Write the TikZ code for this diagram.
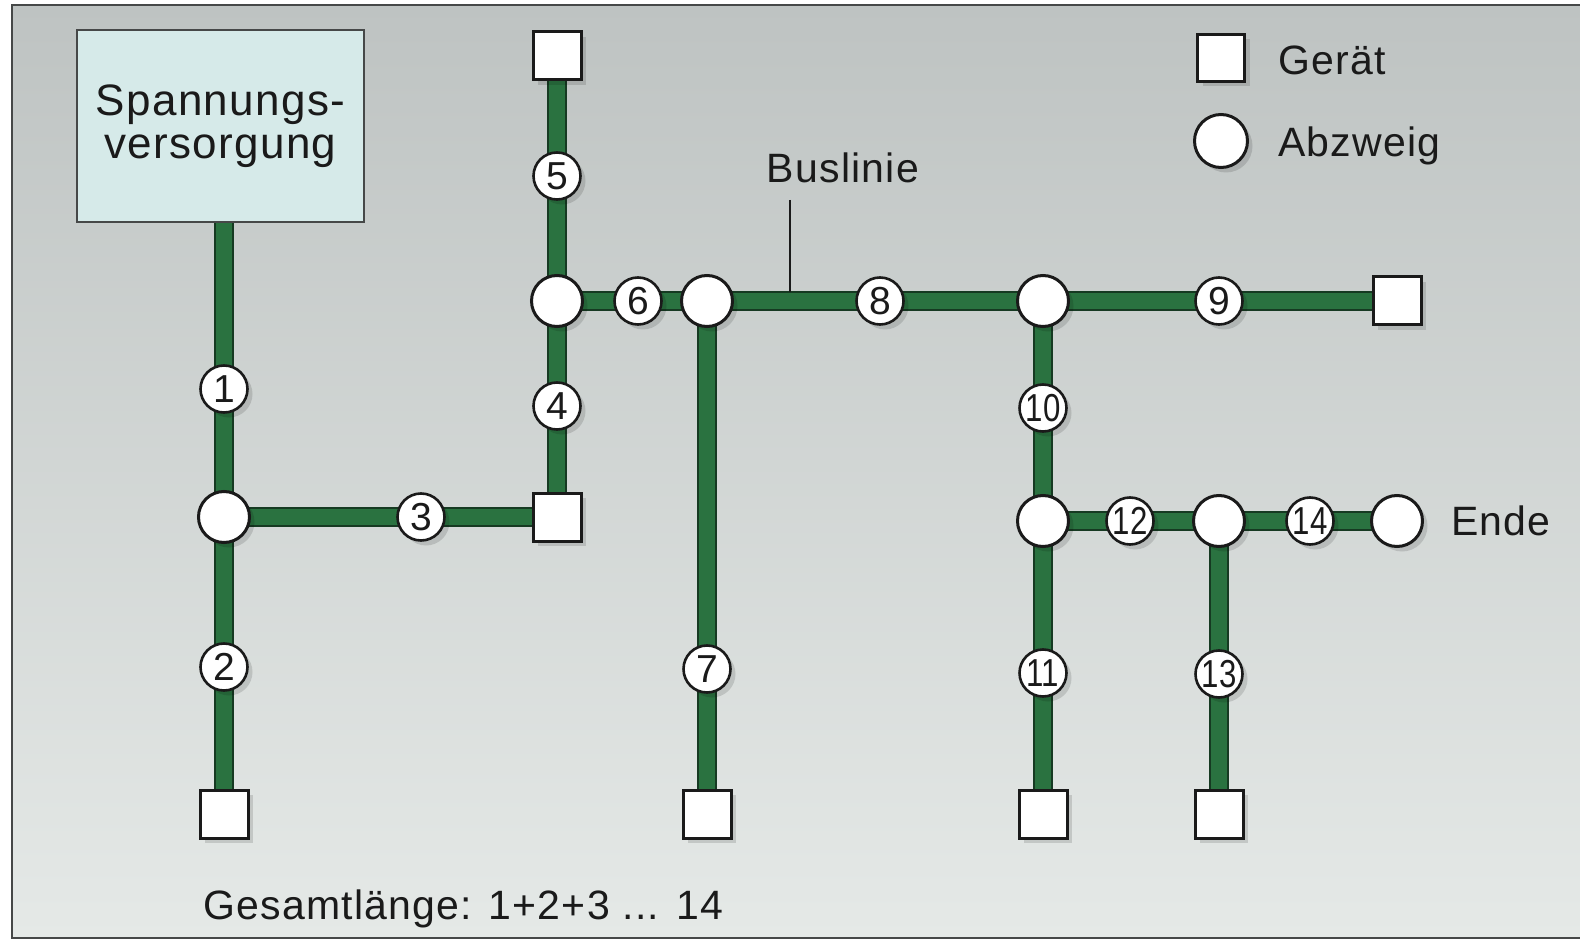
\documentclass[tikz,border=0pt]{standalone}
\usepackage{fontspec}
\usepackage{graphicx}
\setmainfont{Liberation Sans}[LetterSpace=3]
\newfontfamily\numfont{Liberation Sans}
\usetikzlibrary{shadows}

\pgfdeclarelayer{bg}
\pgfdeclarelayer{wires}
\pgfsetlayers{bg,wires,main}

\definecolor{busgreen}{RGB}{42,114,64}
\definecolor{busedge}{RGB}{22,58,34}
\definecolor{ink}{RGB}{26,26,26}
\definecolor{supplyfill}{RGB}{214,234,233}
\definecolor{bgtop}{RGB}{190,195,194}
\definecolor{bgbottom}{RGB}{229,233,231}
\definecolor{framegrey}{RGB}{70,72,72}

\tikzset{
  softshadow/.style={drop shadow={shadow xshift=5pt, shadow yshift=-5pt,
      fill=black, opacity=0.13}},
  junction/.style={circle, draw=ink, line width=3pt, fill=white,
      minimum size=51pt, inner sep=0pt, softshadow},
  seg/.style={circle, draw=ink, line width=2.6pt, fill=white,
      minimum size=47pt, inner sep=0pt, text=ink,
      font=\numfont\fontsize{39}{39}\selectfont, softshadow},
  device/.style={rectangle, draw=ink, line width=3pt, fill=white,
      minimum size=48pt, inner sep=0pt, softshadow},
  supply/.style={rectangle, draw=framegrey, line width=2pt, fill=supplyfill,
      minimum width=287pt, minimum height=192pt, align=center, text=ink,
      font=\fontsize{44}{43}\selectfont},
  label/.style={inner sep=0pt, text=ink, font=\fontsize{41}{41}\selectfont},
  bus/.style={draw=busedge, line width=2pt, double=busgreen, double distance=16pt},
  leader/.style={draw=ink, line width=1.3pt}
}

\newcommand{\twodig}[1]{\scalebox{0.8}[1]{#1}}

\begin{document}
\begin{tikzpicture}[x=1pt, y=-1pt]
\useasboundingbox (0,0) rectangle (1580,941);

% paper background and frame
\begin{pgfonlayer}{bg}
  \fill[white] (0,0) rectangle (1580,941);
  \fill[top color=bgtop, bottom color=bgbottom] (12,5) rectangle (1580,938);
  \draw[framegrey, line width=2.5pt] (1580,5) -- (12,5) -- (12,938) -- (1580,938);
\end{pgfonlayer}

% power supply
\node[supply] (supply) at (220.5,126) {Spannungs-\\versorgung};

% branch points
\node[junction] (ja) at (224,517) {};
\node[junction] (jb) at (557,301) {};
\node[junction] (jc) at (707,301) {};
\node[junction] (jd) at (1043,301) {};
\node[junction] (je) at (1043,521) {};
\node[junction] (jf) at (1219,521) {};
\node[junction] (jend) at (1397,521) {};

% devices
\node[device] (dtop) at (557,56) {};
\node[device] (dmid) at (557,517) {};
\node[device] (dright) at (1397,301) {};
\node[device] (da) at (224,814) {};
\node[device] (db) at (707,814) {};
\node[device] (dc) at (1043,814) {};
\node[device] (dd) at (1219,814) {};

% segment numbers
\node[seg] (s1) at (224,389) {1};
\node[seg] (s2) at (224,667) {2};
\node[seg] (s3) at (421,517) {3};
\node[seg] (s4) at (557,406) {4};
\node[seg] (s5) at (557,176) {5};
\node[seg] (s6) at (638,301) {6};
\node[seg] (s7) at (707,669) {7};
\node[seg] (s8) at (880,301) {8};
\node[seg] (s9) at (1219,301) {9};
\node[seg] (s10) at (1043,408) {\twodig{10}};
\node[seg] (s11) at (1043,673) {\twodig{11}};
\node[seg] (s12) at (1130,521) {\twodig{12}};
\node[seg] (s13) at (1219,674) {\twodig{13}};
\node[seg] (s14) at (1310,521) {\twodig{14}};

% bus wiring, kept beneath the nodes
\begin{pgfonlayer}{wires}
  \draw[bus] (ja.center |- supply.south) -- (ja.center);
  \draw[bus] (ja.center) -- (da.center);
  \draw[bus] (ja.center) -- (dmid.center);
  \draw[bus] (dmid.center) -- (jb.center);
  \draw[bus] (jb.center) -- (dtop.center);
  \draw[bus] (jb.center) -- (jc.center);
  \draw[bus] (jc.center) -- (jd.center);
  \draw[bus] (jd.center) -- (dright.center);
  \draw[bus] (jc.center) -- (db.center);
  \draw[bus] (jd.center) -- (je.center);
  \draw[bus] (je.center) -- (dc.center);
  \draw[bus] (je.center) -- (jf.center);
  \draw[bus] (jf.center) -- (jend.center);
  \draw[bus] (jf.center) -- (dd.center);
\end{pgfonlayer}

% labels
\node[label, anchor=base] (buslabel) at (843,183) {Buslinie};
\coordinate (leadtop) at (790,200);
\coordinate (leadend) at (790,292);
\draw[leader] (leadtop) -- (leadend);

\node[label, anchor=base west] (ende) at (1451,535) {Ende};
\node[label, anchor=base west] (total) at (203,919) {Gesamtlänge: 1+2+3 ... 14};

% legend
\node[device, minimum size=47pt] (legdev) at (1221,58) {};
\node[label, anchor=base west] (legdevtext) at (1278,75) {Gerät};
\node[junction, minimum size=53pt] (legjun) at (1221,141) {};
\node[label, anchor=base west] (legjuntext) at (1278,157) {Abzweig};
\end{tikzpicture}
\end{document}
